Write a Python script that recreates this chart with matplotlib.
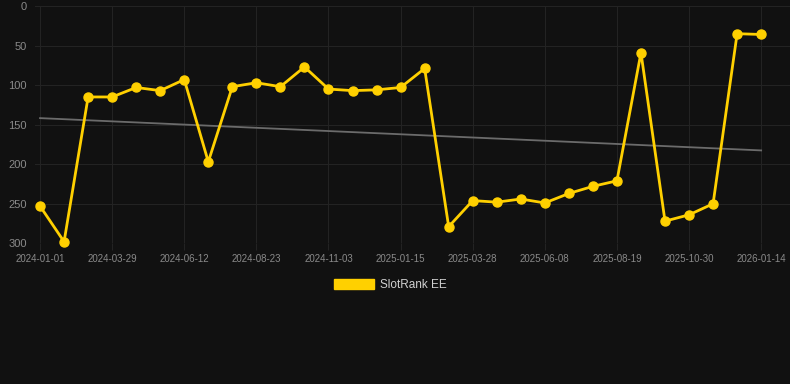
import numpy as np
import matplotlib
matplotlib.use("Agg")
import matplotlib.pyplot as plt
from matplotlib.patches import Patch

# rank values (lower is better), one point roughly every 25 days
ranks = [253, 298, 115, 115, 103, 107, 93, 197, 102, 97, 102, 77, 105, 107, 106,
         103, 79, 279, 246, 248, 244, 249, 237, 228, 221, 59, 272, 264, 250, 35, 36]

# every third point carries a date label
tick_labels = ["2024-01-01", "2024-03-29", "2024-06-12", "2024-08-23", "2024-11-03",
               "2025-01-15", "2025-03-28", "2025-06-08", "2025-08-19", "2025-10-30",
               "2026-01-14"]
tick_step = 3

series_name = "SlotRank EE"

bg = "#111111"
grid_col = "#232323"
text_col = "#8a8a8a"
yellow = "#FFD000"

plt.rcParams['font.family'] = ['Liberation Sans', 'DejaVu Sans']

W, H = 790, 384
fig = plt.figure(figsize=(W / 100, H / 100), dpi=100, facecolor=bg)
ax = fig.add_axes([35 / W, 1 - 243.3 / H, (W - 35) / W, (243.3 - 6) / H])
ax.set_facecolor(bg)

x = np.arange(len(ranks))

# linear trend line
k, b = np.polyfit(x, ranks, 1)
ax.plot(x, k * x + b, color="#6b6b6b", lw=1.3, zorder=2)

ax.plot(x, ranks, color=yellow, lw=2.0, marker="o", markersize=6.5, zorder=3,
        clip_on=False)

ax.set_xlim(-0.21, 31.2)
ax.set_ylim(300, 0)
ax.set_yticks([0, 50, 100, 150, 200, 250, 300])
ax.set_xticks(x[::tick_step])
ax.set_xticklabels(tick_labels)

ax.grid(True, color=grid_col, lw=0.8)
ax.set_axisbelow(True)
for s in ax.spines.values():
    s.set_visible(False)

ax.tick_params(axis="x", colors=grid_col, labelcolor=text_col, labelsize=7,
               length=5, width=0.8, pad=3)
ax.tick_params(axis="y", colors=grid_col, labelcolor=text_col, labelsize=8,
               length=0, pad=6)

handle = Patch(facecolor=yellow, edgecolor=yellow)
leg = fig.legend([handle], [series_name], loc="center",
                 bbox_to_anchor=(390 / W, 1 - 285 / H), frameon=False,
                 fontsize=8.5, handlelength=3.4, handleheight=0.9,
                 handletextpad=0.5)
for t in leg.get_texts():
    t.set_color("#d0d0d0")

fig.savefig("out.png", dpi=100, facecolor=bg)
